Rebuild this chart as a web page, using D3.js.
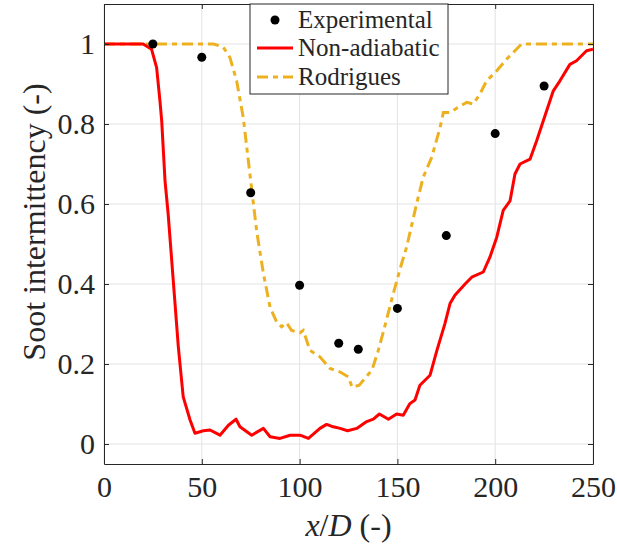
<!DOCTYPE html>
<html>
<head>
<meta charset="utf-8">
<script src="https://cdn.jsdelivr.net/npm/d3@7"></script>
<style>
  body { margin: 0; background: #fff; }
</style>
</head>
<body>
<div id="root"></div>
<script>
var w = 617, h = 553;
var margin = { left: 104, right: 24, top: 4, bottom: 89 };
var FONT = '"Liberation Serif", "Times New Roman", "DejaVu Serif", serif';

// experimental points
var expX = [25, 50, 75, 100, 120, 130, 150, 175, 200, 225];
var expY = [1.0, 0.967, 0.628, 0.397, 0.252, 0.237, 0.339, 0.521, 0.776, 0.895];

// Non-adiabatic
var nonAdX = [0, 20, 24.3, 26.9, 28.6, 29.5, 31.2, 32.8, 35.4, 38, 40.5, 44, 46.5, 50.8, 54.2, 59.3, 63.6, 67.5, 69.5, 75.5, 81.5, 84.9, 90, 95.1, 100.2, 104.5, 110.4, 113.8, 117.2, 120.7, 124.5, 129.2, 134.3, 137.7, 140.8, 145.4, 149.6, 153, 156.4, 159, 161.5, 166.7, 170.2, 174.3, 176.9, 179.4, 184.6, 188, 193.9, 197.3, 200.8, 204.1, 207.6, 210.1, 212.7, 217.8, 221.2, 224.6, 229.7, 233.1, 238.2, 241.6, 246.7, 250];
var nonAdY = [1, 1, 0.987, 0.941, 0.858, 0.808, 0.658, 0.575, 0.409, 0.243, 0.118, 0.06, 0.027, 0.033, 0.035, 0.022, 0.047, 0.062, 0.043, 0.022, 0.039, 0.018, 0.014, 0.022, 0.022, 0.014, 0.039, 0.049, 0.043, 0.039, 0.033, 0.039, 0.056, 0.062, 0.075, 0.062, 0.075, 0.072, 0.101, 0.11, 0.147, 0.172, 0.234, 0.301, 0.351, 0.372, 0.4, 0.417, 0.43, 0.467, 0.517, 0.584, 0.608, 0.675, 0.7, 0.712, 0.758, 0.808, 0.883, 0.908, 0.949, 0.958, 0.983, 0.987];

// Rodrigues
var rodX = [0, 56, 61, 64.4, 67.8, 71.2, 75, 78, 81.5, 84.9, 88.3, 90.8, 93.3, 95.9, 100.2, 101.9, 105.3, 110.4, 115.5, 120.7, 124.9, 126.8, 130.5, 137, 140, 142.8, 147.9, 152.1, 154.7, 159.8, 163.2, 167.5, 171.8, 173.5, 176.9, 181.1, 185.4, 188.8, 192.2, 195.6, 200.8, 205.8, 210.1, 213.5, 250];
var rodY = [1, 1, 0.992, 0.966, 0.908, 0.816, 0.658, 0.534, 0.426, 0.342, 0.305, 0.293, 0.303, 0.284, 0.278, 0.284, 0.234, 0.218, 0.189, 0.18, 0.168, 0.142, 0.147, 0.185, 0.23, 0.28, 0.376, 0.45, 0.492, 0.6, 0.667, 0.716, 0.791, 0.829, 0.829, 0.842, 0.854, 0.85, 0.875, 0.908, 0.933, 0.962, 0.983, 1, 1];

var xTicks = [0, 50, 100, 150, 200, 250];
var yTicks = [0, 0.2, 0.4, 0.6, 0.8, 1];
var yTickLabels = ['0', '0.2', '0.4', '0.6', '0.8', '1'];

var svg = d3.select('#root').append('svg').attr('width', w).attr('height', h)
    .style('font-family', FONT);
var pw = w - margin.left - margin.right, ph = h - margin.top - margin.bottom;

var x = d3.scaleLinear().domain([0, 250]).range([margin.left, margin.left + pw]);
var y = d3.scaleLinear().domain([-0.05, 1.1]).range([margin.top + ph, margin.top]);

svg.append('clipPath').attr('id', 'clip').append('rect')
    .attr('x', margin.left).attr('y', margin.top).attr('width', pw).attr('height', ph);

// grid
var grid = svg.append('g').attr('stroke', '#e3e3e3').attr('stroke-width', 1);
grid.selectAll('.gx').data(xTicks).enter().append('line')
    .attr('x1', function (d) { return x(d); }).attr('x2', function (d) { return x(d); })
    .attr('y1', margin.top).attr('y2', margin.top + ph);
grid.selectAll('.gy').data(yTicks).enter().append('line')
    .attr('y1', function (d) { return y(d); }).attr('y2', function (d) { return y(d); })
    .attr('x1', margin.left).attr('x2', margin.left + pw);

// curves
var plot = svg.append('g').attr('clip-path', 'url(#clip)');
var line = d3.line().x(function (d) { return x(d[0]); }).y(function (d) { return y(d[1]); });

plot.append('path')
    .datum(rodX.map(function (v, i) { return [v, rodY[i]]; }))
    .attr('d', line).attr('fill', 'none')
    .attr('stroke', '#EDB120').attr('stroke-width', 3)
    .attr('stroke-dasharray', '11,5,5,5');

plot.append('path')
    .datum(nonAdX.map(function (v, i) { return [v, nonAdY[i]]; }))
    .attr('d', line).attr('fill', 'none')
    .attr('stroke', '#ff0000').attr('stroke-width', 3).attr('stroke-linejoin', 'round');

plot.selectAll('.pt').data(expX).enter().append('circle')
    .attr('cx', function (d) { return x(d); })
    .attr('cy', function (d, i) { return y(expY[i]); })
    .attr('r', 4.5).attr('fill', '#000');

// axes (box with inward ticks)
var xAxisB = d3.axisBottom(x).tickValues(xTicks).tickSizeInner(-5).tickSizeOuter(0).tickPadding(12);
var xAxisT = d3.axisTop(x).tickValues(xTicks).tickSizeInner(-5).tickSizeOuter(0).tickFormat('');
var yAxisL = d3.axisLeft(y).tickValues(yTicks).tickSizeInner(-5).tickSizeOuter(0).tickPadding(9)
    .tickFormat(function (d, i) { return yTickLabels[i]; });
var yAxisR = d3.axisRight(y).tickValues(yTicks).tickSizeInner(-5).tickSizeOuter(0).tickFormat('');

function style(g) {
  g.attr('font-family', null).style('font-family', FONT);
  g.select('.domain').attr('stroke', '#262626');
  g.selectAll('.tick line').attr('stroke', '#262626');
  g.selectAll('text').attr('font-size', 30).attr('fill', '#262626');
}
svg.append('g').attr('transform', 'translate(0,' + (margin.top + ph) + ')').call(xAxisB).call(style);
svg.append('g').attr('transform', 'translate(0,' + margin.top + ')').call(xAxisT).call(style);
svg.append('g').attr('transform', 'translate(' + margin.left + ',0)').call(yAxisL).call(style);
svg.append('g').attr('transform', 'translate(' + (margin.left + pw) + ',0)').call(yAxisR).call(style);

// axis labels
var xl = svg.append('text').attr('x', margin.left + pw / 2).attr('y', 536)
    .attr('text-anchor', 'middle').attr('font-size', 32).attr('fill', '#262626');
xl.append('tspan').attr('font-style', 'italic').text('x');
xl.append('tspan').text('/');
xl.append('tspan').attr('font-style', 'italic').text('D');
xl.append('tspan').text('\u00a0(-)');

svg.append('text')
    .attr('transform', 'translate(45,222) rotate(-90)')
    .attr('text-anchor', 'middle').attr('font-size', 32).attr('fill', '#262626')
    .text('Soot intermittency (-)');

// legend
var legend = svg.append('g');
legend.append('rect').attr('x', 250).attr('y', 4).attr('width', 198).attr('height', 90)
    .attr('fill', '#fff').attr('stroke', '#262626').attr('stroke-width', 1);
var names = ['Experimental', 'Non-adiabatic', 'Rodrigues'];
var rowY = [20, 48, 77];
legend.append('circle').attr('cx', 275).attr('cy', rowY[0]).attr('r', 4.5).attr('fill', '#000');
legend.append('line').attr('x1', 257).attr('x2', 293).attr('y1', rowY[1]).attr('y2', rowY[1])
    .attr('stroke', '#ff0000').attr('stroke-width', 3);
legend.append('line').attr('x1', 257).attr('x2', 293).attr('y1', rowY[2]).attr('y2', rowY[2])
    .attr('stroke', '#EDB120').attr('stroke-width', 3).attr('stroke-dasharray', '11,5,5,5');
legend.selectAll('.lt').data(names).enter().append('text')
    .attr('x', 298).attr('y', function (d, i) { return rowY[i] + 8; })
    .attr('font-size', 25).attr('fill', '#262626').text(function (d) { return d; });
</script>
</body>
</html>
